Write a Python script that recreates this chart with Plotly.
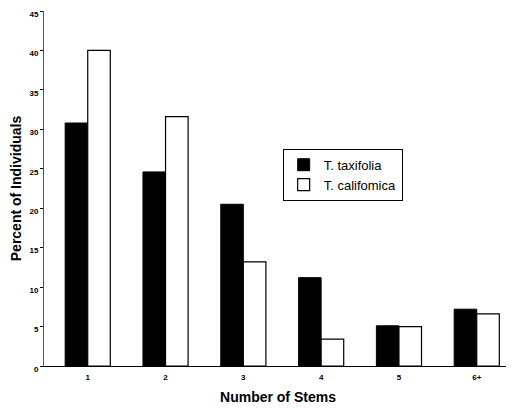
import plotly.graph_objects as go

categories = ["1", "2", "3", "4", "5", "6+"]
taxifolia = [30.8, 24.6, 20.5, 11.2, 5.1, 7.2]
californica = [40.0, 31.6, 13.2, 3.4, 5.0, 6.6]
y_ticks = [0, 5, 10, 15, 20, 25, 30, 35, 40, 45]

fig = go.Figure()
fig.add_trace(go.Bar(x=list(range(len(categories))), y=taxifolia, name="T. taxifolia",
                     marker=dict(color="black", line=dict(color="black", width=1))))
fig.add_trace(go.Bar(x=list(range(len(categories))), y=californica, name="T. califomica",
                     marker=dict(color="white", line=dict(color="black", width=1.2))))

# page body has an 8px margin, so the figure is sized/offset to compensate
fig.update_layout(
    width=506, height=401,
    margin=dict(l=36, r=2, t=3, b=43),
    paper_bgcolor="white", plot_bgcolor="white",
    barmode="group", bargap=0.42, bargroupgap=0,
    font=dict(family="Liberation Sans, Arial", color="black"),
    legend=dict(x=0.51, y=0.612, xanchor="left", yanchor="top",
                bordercolor="black", borderwidth=1, bgcolor="white",
                font=dict(size=13), tracegroupgap=0, itemwidth=30),
    showlegend=True,
)
fig.update_xaxes(
    range=[-0.562, 5.453], automargin=False,
    tickmode="array", tickvals=list(range(len(categories))),
    ticktext=[f"<b>{c}</b>" for c in categories],
    tickfont=dict(size=8), ticklabelstandoff=3,
    showline=True, linecolor="black", linewidth=1, ticks="", showgrid=False,
    title=dict(text="<b>Number of Stems</b>", font=dict(size=14), standoff=11),
)
fig.update_yaxes(
    range=[0, 45], automargin=False,
    tickmode="array", tickvals=y_ticks,
    ticktext=[f"<b>{v}</b>" for v in y_ticks],
    tickfont=dict(size=8), ticklabeloverflow="allow", ticklabelshift=3,
    showline=True, linecolor="#555", linewidth=1, ticks="outside", ticklen=3,
    tickcolor="black", showgrid=False, zeroline=False,
    title=dict(text="<b>Percent of Individuals</b>", font=dict(size=14), standoff=12),
)
fig.write_html("out.html")
